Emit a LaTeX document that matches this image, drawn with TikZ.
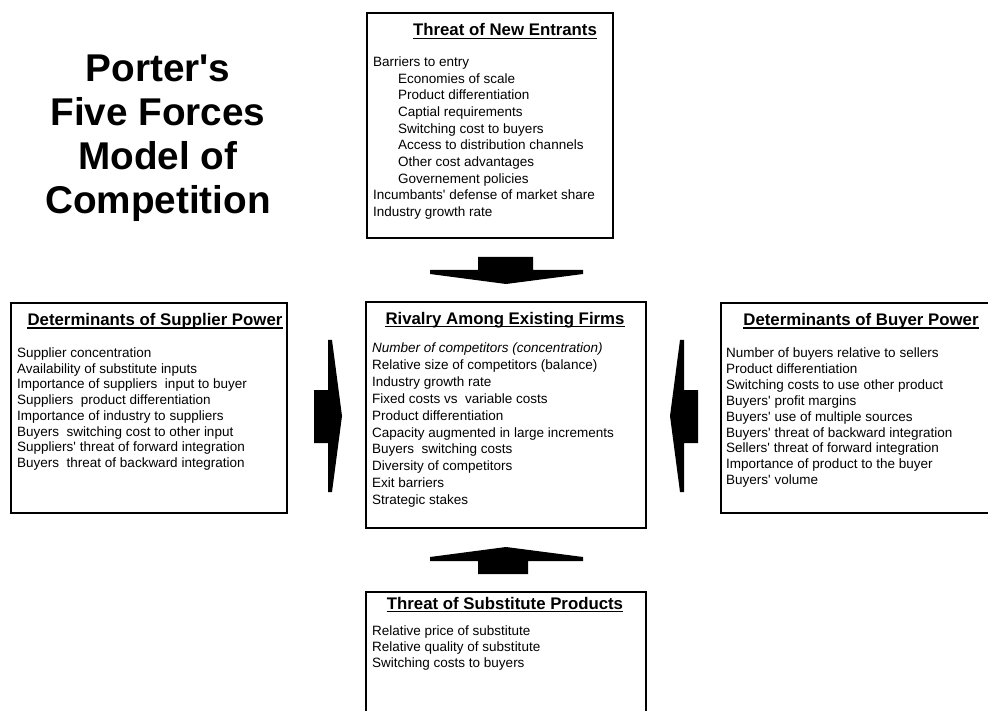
\documentclass[tikz,border=0pt]{standalone}
\usepackage{fontspec}
\setmainfont{Liberation Sans}[Ligatures=TeXOff]
% a left-aligned block of lines whose baseline is that of its first line
\newcommand\txtblock[2]{{\fontsize{13.5}{#1}\selectfont\begin{tabular}[t]{@{}l@{}}#2\end{tabular}}}
\newcommand\ind{\hspace*{25pt}}
\begin{document}
\begin{tikzpicture}[x=1pt,y=-1pt,
  box/.style={draw=black, line width=1.8pt, anchor=north west, inner sep=0pt, outer sep=0pt},
  head/.style={anchor=base, inner sep=0pt, font=\fontsize{16.8}{20}\selectfont\bfseries},
  body/.style={anchor=base west, inner sep=0pt},
  uline/.style={line width=1.6pt},
  force/.style={fill=black, draw=none}]
\useasboundingbox (0,0) rectangle (988,711);
\clip (0,0) rectangle (988,711);

% title
\node[anchor=base, inner sep=0pt] (title) at (158,82)
  {\fontsize{38.7}{43.7}\selectfont\bfseries
   \begin{tabular}[t]{@{}c@{}}Porter's\\Five Forces\\Model of\\Competition\end{tabular}};

% boxes
\node[box, minimum width=246pt, minimum height=225pt] (topbox) at (367,13) {};
\node[box, minimum width=276pt, minimum height=210pt] (leftbox) at (11,303) {};
\node[box, minimum width=280pt, minimum height=226pt] (midbox) at (366,302) {};
\node[box, minimum width=280pt, minimum height=210pt] (rightbox) at (721,303) {};
\node[box, minimum width=280pt, minimum height=140pt] (botbox) at (366,592) {};

% headings
\node[head] (toph) at (505,36) {Threat of New Entrants};
\node[head] (lefth) at (155,325.5) {Determinants of Supplier Power};
\node[head] (midh) at (505,324) {Rivalry Among Existing Firms};
\node[head] (righth) at (861,325.5) {Determinants of Buyer Power};
\node[head] (both) at (505,609) {Threat of Substitute Products};
\foreach \h in {toph,lefth,midh,righth,both}
  \draw[uline] ([yshift=-2.5pt]\h.base west) -- ([yshift=-2.5pt]\h.base east);

% lists
\node[body] (toptext) at (373,66.5) {\txtblock{16.67}{%
  Barriers to entry\\
  \ind Economies of scale\\
  \ind Product differentiation\\
  \ind Captial requirements\\
  \ind Switching cost to buyers\\
  \ind Access to distribution channels\\
  \ind Other cost advantages\\
  \ind Governement policies\\
  Incumbants' defense of market share\\
  Industry growth rate}};

\node[body] (lefttext) at (17,357.5) {\txtblock{15.7}{%
  Supplier concentration\\
  Availability of substitute inputs\\
  Importance of suppliers\ \ input to buyer\\
  Suppliers\ \ product differentiation\\
  Importance of industry to suppliers\\
  Buyers\ \ switching cost to other input\\
  Suppliers' threat of forward integration\\
  Buyers\ \ threat of backward integration}};

\node[body] (midtext) at (372,352.5) {\txtblock{16.9}{%
  \textit{Number of competitors (concentration)}\\
  Relative size of competitors (balance)\\
  Industry growth rate\\
  Fixed costs vs\ \ variable costs\\
  Product differentiation\\
  Capacity augmented in large increments\\
  Buyers\ \ switching costs\\
  Diversity of competitors\\
  Exit barriers\\
  Strategic stakes}};

\node[body] (righttext) at (726,357.5) {\txtblock{15.9}{%
  Number of buyers relative to sellers\\
  Product differentiation\\
  Switching costs to use other product\\
  Buyers' profit margins\\
  Buyers' use of multiple sources\\
  Buyers' threat of backward integration\\
  Sellers' threat of forward integration\\
  Importance of product to the buyer\\
  Buyers' volume}};

\node[body] (bottext) at (372,635) {\txtblock{16}{%
  Relative price of substitute\\
  Relative quality of substitute\\
  Switching costs to buyers}};

% block arrows pushing on the rivalry box
\fill[force] (478,257) -- (533,257) -- (533,270) -- (583,270) -- (583,274)
  -- (506,284) -- (430,274) -- (430,270) -- (478,270) -- cycle;
\fill[force] (506,547) -- (583,557) -- (583,561) -- (528,561) -- (528,574)
  -- (478,574) -- (478,561) -- (430,561) -- (430,557) -- cycle;
\fill[force] (314,390) -- (328,390) -- (328,340) -- (332,340) -- (342,416)
  -- (332,492) -- (328,492) -- (328,443) -- (314,443) -- cycle;
\fill[force] (698,390) -- (684,390) -- (684,340) -- (680,340) -- (670,416)
  -- (680,492) -- (684,492) -- (684,443) -- (698,443) -- cycle;
\end{tikzpicture}
\end{document}
